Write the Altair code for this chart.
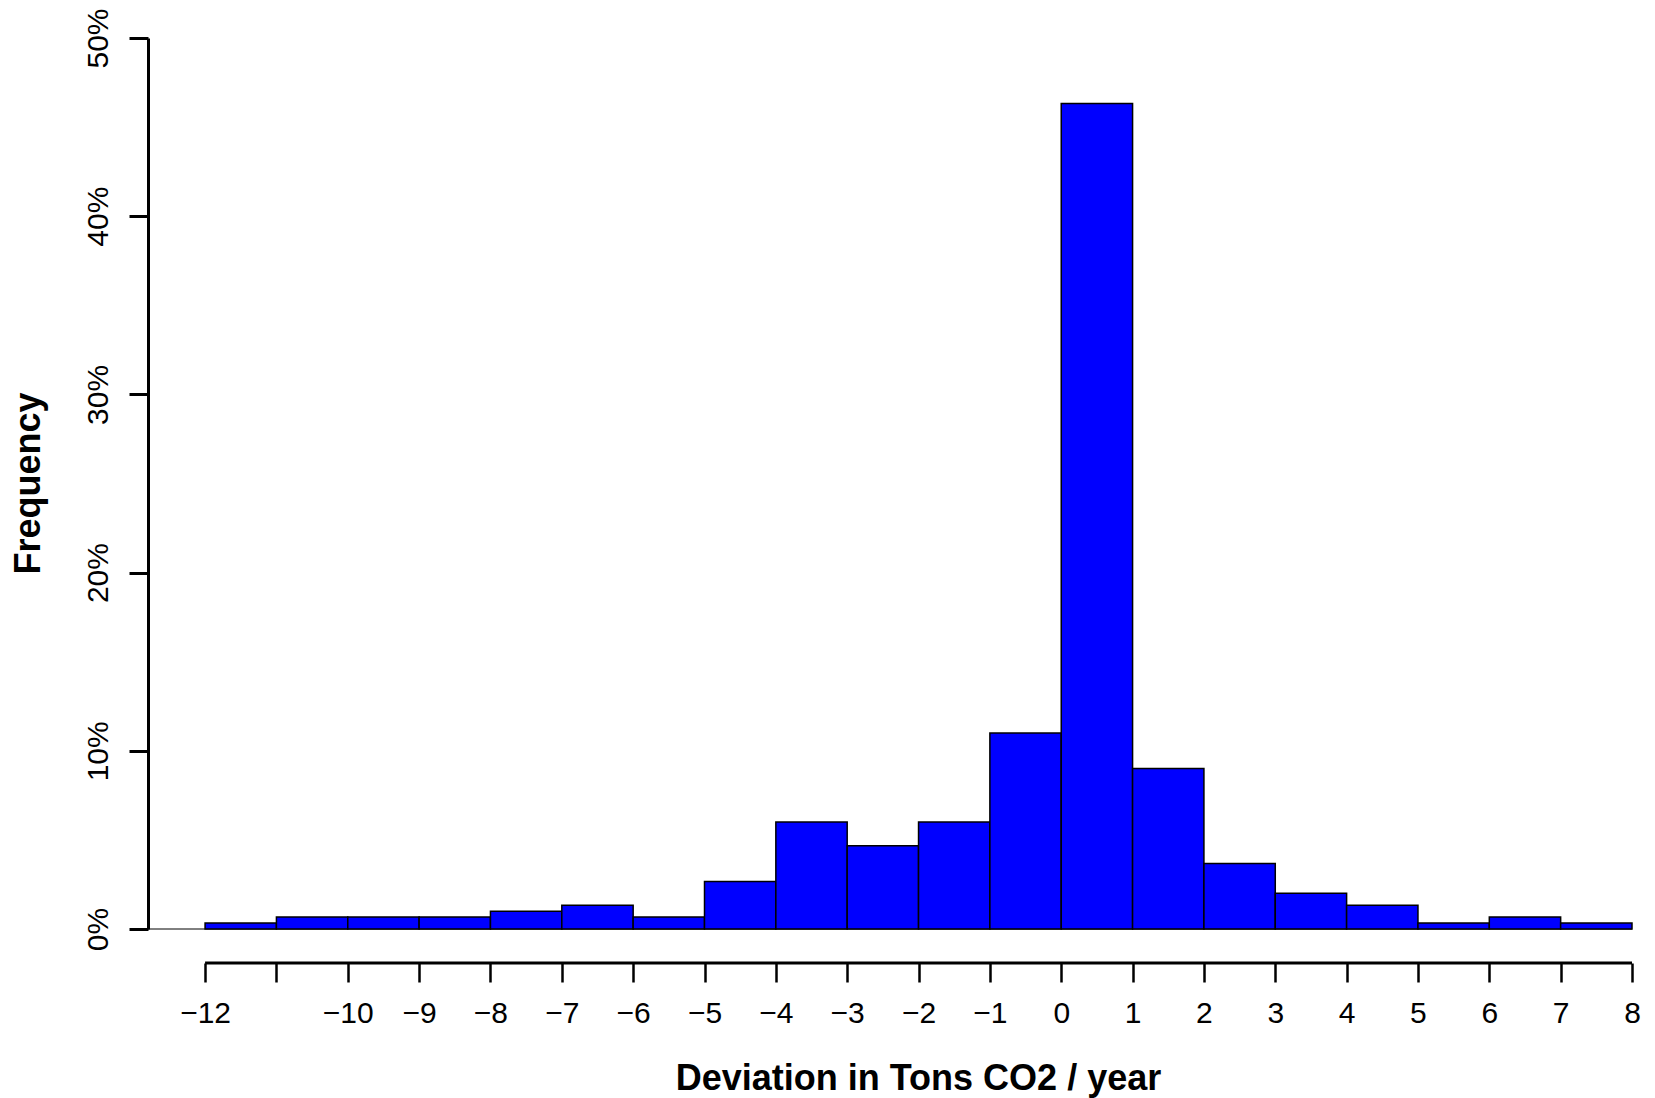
import altair as alt
import pandas as pd

bin_start = list(range(-12, 8))
bin_end = list(range(-11, 9))
freq_pct = [0.33, 0.67, 0.67, 0.67, 1.0, 1.33, 0.67, 2.67, 6.0, 4.67,
            6.0, 11.0, 46.33, 9.0, 3.67, 2.0, 1.33, 0.33, 0.67, 0.33]
x_ticks = list(range(-12, 9))
y_ticks = [0, 10, 20, 30, 40, 50]

df = pd.DataFrame({"start": bin_start, "end": bin_end, "pct": freq_pct})

FONT = "Liberation Sans"
W, H = 1484, 891

xscale = alt.Scale(domain=[-12.8, 8], nice=False, zero=False)
yscale = alt.Scale(domain=[0, 50], nice=False)

bars = alt.Chart(df).mark_rect(fill="#0000FF", stroke="black", strokeWidth=1.5).encode(
    x=alt.X("start:Q", scale=xscale, axis=alt.Axis(
        values=x_ticks, domain=False, grid=False, offset=34, format="d",
        tickSize=19, tickWidth=2.5, tickColor="black",
        labelExpr="datum.value == -11 ? '' : datum.label",
        labelFont=FONT, labelFontSize=30, labelColor="black", labelPadding=16,
        labelFlush=False, labelOverlap=False,
        title="Deviation in Tons CO2 / year", titleFont=FONT, titleFontSize=36,
        titleFontWeight="bold", titleColor="black", titleX=770, titleAlign="center",
        titleY=115, titleBaseline="middle",
    )),
    x2="end:Q",
    y=alt.Y("pct:Q", scale=yscale, axis=alt.Axis(
        values=y_ticks, grid=False, domainWidth=3, domainColor="black",
        tickSize=19, tickWidth=3, tickColor="black",
        labelExpr="datum.value + '%'", labelAngle=270, labelAlign="center",
        labelBaseline="alphabetic", labelPadding=22,
        labelFont=FONT, labelFontSize=30, labelColor="black", labelFlush=False,
        title="Frequency", titleFont=FONT, titleFontSize=36, titleFontWeight="bold",
        titleColor="black", titleX=-101, titleY=445, titleAngle=270, titleBaseline="bottom",
    )),
    y2=alt.datum(0),
)

base_line = alt.Chart(pd.DataFrame({"a": [-12.8], "b": [8]})).mark_rule(
    color="black", strokeWidth=1).encode(
    x=alt.X("a:Q", scale=xscale), x2="b:Q", y=alt.value(H))

axis_line = alt.Chart(pd.DataFrame({"a": [x_ticks[0]], "b": [x_ticks[-1]]})).mark_rule(
    color="black", strokeWidth=3).encode(
    x=alt.X("a:Q", scale=xscale), x2="b:Q", y=alt.value(H + 34))

chart = alt.layer(base_line, bars, axis_line).properties(
    width=W, height=H, background="white",
    autosize=alt.AutoSizeParams(type="none"),
    padding={"left": 148, "top": 38, "right": 23, "bottom": 169},
).configure_view(strokeWidth=0, stroke=None)

chart.save("out.html", embed_options={"renderer": "svg", "actions": False})
